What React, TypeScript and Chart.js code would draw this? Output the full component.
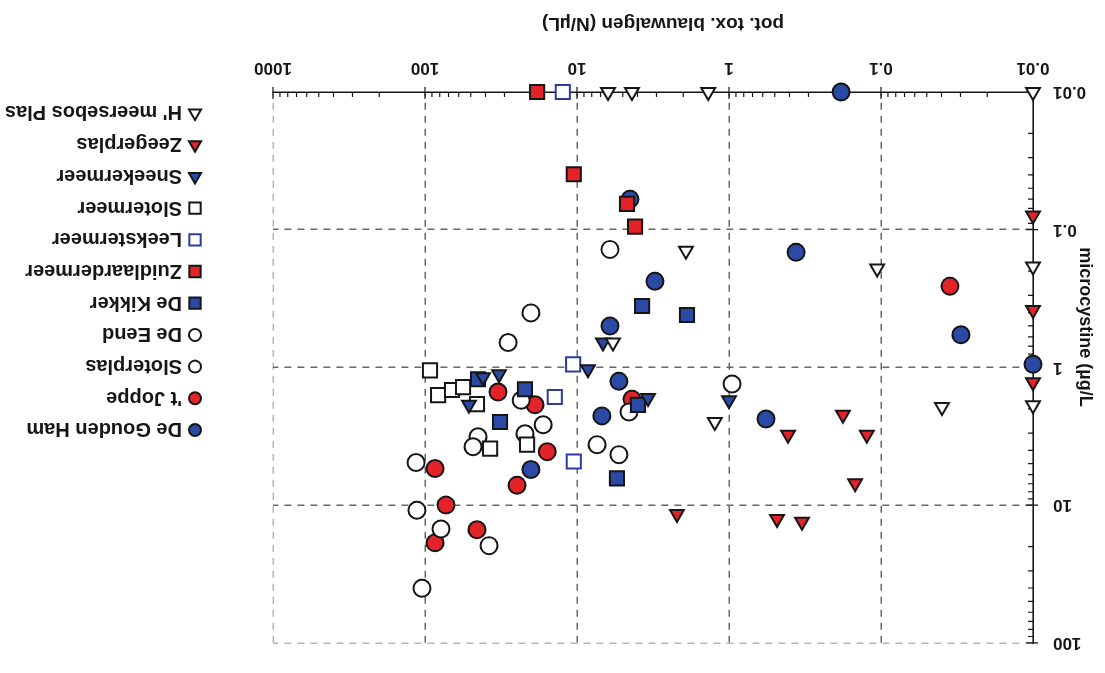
import React, { useEffect, useRef } from "react";
import { Chart, registerables } from "chart.js";

Chart.register(...registerables);

// ---- axis ticks & titles ----
const xTickValues = [0.01, 0.1, 1, 10, 100, 1000];
const xTickLabels = ["0.01", "0.1", "1", "10", "100", "1000"];
const yTickValues = [0.01, 0.1, 1, 10, 100];
const yTickLabels = ["0.01", "0.1", "1", "10", "100"];
const xTitle = "pot. tox. blauwalgen (N/µL)";
const yTitle = "microcystine (µg/L";

// ---- series data: [pot. tox. blauwalgen, microcystine] ----
const deGoudenHam: [number, number][] = [
  [0.183, 0.01], [4.48, 0.06], [3.07, 0.237], [6.07, 0.5], [0.362, 0.146],
  [0.0298, 0.579], [0.01, 0.95], [0.571, 2.37], [5.3, 1.26], [6.86, 2.25], [20.1, 5.51],
];
const tJoppe: [number, number][] = [
  [0.0352, 0.257], [33.1, 1.51], [18.9, 1.87], [15.7, 4.09], [24.8, 7.18],
  [85.9, 5.42], [4.35, 1.7], [72.8, 10.0], [85.9, 18.8], [45.5, 15.1],
];
const sloterplas: [number, number][] = [
  [114.5, 4.91], [113, 10.9], [78.5, 14.9], [37.9, 19.7], [104.7, 40.2],
  [44.8, 3.19], [48.3, 3.77], [28.4, 0.66], [20.1, 0.402],
];
const deEend: [number, number][] = [
  [6.07, 0.139], [0.955, 1.32], [23.3, 1.73], [16.7, 2.61], [22, 3.03],
  [4.55, 2.11], [7.38, 3.64], [5.3, 4.3],
];
const deKikker: [number, number][] = [
  [3.73, 0.358], [1.89, 0.416], [44.8, 1.22], [22, 1.44], [32.1, 2.49], [3.97, 1.87], [5.46, 6.4],
];
const zuidlaardermeer: [number, number][] = [
  [18.3, 0.01], [10.5, 0.0396], [4.69, 0.065], [4.15, 0.095],
];
const leekstermeer: [number, number][] = [
  [12.4, 0.01], [10.6, 0.95], [14, 1.64], [10.5, 4.82],
];
const slotermeer: [number, number][] = [
  [92.7, 1.05], [82, 1.59], [66.4, 1.46], [56.2, 1.39], [45.5, 1.85], [37.3, 3.89], [21.3, 3.64],
];
const sneekermeer: [number, number][] = [
  [6.75, 0.66], [8.47, 1.03], [41.5, 1.18], [32.6, 1.12], [51.4, 1.87], [3.41, 1.67], [1.0, 1.73],
];
const zeegerplas: [number, number][] = [
  [0.01, 0.079], [0.01, 0.383], [0.01, 1.28], [0.409, 3.08], [0.178, 2.21],
  [0.124, 3.08], [0.148, 6.95], [2.2, 11.6], [0.483, 12.6], [0.331, 13.2],
];
const hMeersebosPlas: [number, number][] = [
  [6.25, 0.01], [4.35, 0.01], [1.37, 0.01], [0.01, 0.01], [1.92, 0.142], [0.106, 0.191],
  [0.01, 0.185], [5.8, 0.66], [0.01, 1.88], [1.24, 2.49], [0.0397, 1.94],
];

const BLUE = "#2a4aa6";
const RED = "#e42329";
const INK = "#161616";

type S = { name: string; data: [number, number][]; style: string; fill: string; stroke: string; r: number };

const series: S[] = [
  { name: "De Gouden Ham", data: deGoudenHam, style: "circle", fill: BLUE, stroke: INK, r: 8.5 },
  { name: "'t Joppe", data: tJoppe, style: "circle", fill: RED, stroke: INK, r: 8.5 },
  { name: "Sloterplas", data: sloterplas, style: "circle", fill: "#ffffff", stroke: INK, r: 8.5 },
  { name: "De Eend", data: deEend, style: "circle", fill: "#ffffff", stroke: INK, r: 8.5 },
  { name: "De Kikker", data: deKikker, style: "rect", fill: BLUE, stroke: INK, r: 10 },
  { name: "Zuidlaardermeer", data: zuidlaardermeer, style: "rect", fill: RED, stroke: INK, r: 10 },
  { name: "Leekstermeer", data: leekstermeer, style: "rect", fill: "#ffffff", stroke: "#2a3d9c", r: 10 },
  { name: "Slotermeer", data: slotermeer, style: "rect", fill: "#ffffff", stroke: INK, r: 10 },
  { name: "Sneekermeer", data: sneekermeer, style: "triangle", fill: BLUE, stroke: INK, r: 8 },
  { name: "Zeegerplas", data: zeegerplas, style: "triangle", fill: RED, stroke: INK, r: 8 },
  { name: "H' meersebos Plas", data: hMeersebosPlas, style: "triangle", fill: "#ffffff", stroke: INK, r: 8 },
];

const FONT = "'Liberation Sans', Arial, Helvetica, sans-serif";

function drawMarker(ctx: CanvasRenderingContext2D, style: string, x: number, y: number, r: number) {
  ctx.beginPath();
  if (style === "circle") {
    ctx.arc(x, y, r, 0, Math.PI * 2);
  } else if (style === "rect") {
    const s = r * Math.SQRT1_2;
    ctx.rect(x - s, y - s, 2 * s, 2 * s);
  } else {
    ctx.moveTo(x, y - r);
    ctx.lineTo(x + r * Math.sin((2 * Math.PI) / 3), y - r * Math.cos((2 * Math.PI) / 3));
    ctx.lineTo(x + r * Math.sin((4 * Math.PI) / 3), y - r * Math.cos((4 * Math.PI) / 3));
    ctx.closePath();
  }
  ctx.fill();
  ctx.stroke();
}

const legendPlugin = {
  id: "customLegend",
  afterDraw(chart: any) {
    const ctx: CanvasRenderingContext2D = chart.ctx;
    ctx.save();
    const mx = 910;
    const y0 = 243;
    const step = 31.7;
    series.forEach((s, i) => {
      const y = y0 + i * step;
      ctx.fillStyle = s.fill;
      ctx.strokeStyle = s.stroke;
      ctx.lineWidth = 2;
      const r = s.style === "circle" ? 6 : s.style === "rect" ? 8 : 7;
      drawMarker(ctx, s.style, mx, y, r);
      ctx.fillStyle = INK;
      ctx.font = `bold 20px ${FONT}`;
      ctx.textAlign = "left";
      ctx.textBaseline = "middle";
      ctx.fillText(s.name, 923, y + 1);
    });
    // axis titles
    ctx.fillStyle = INK;
    ctx.font = `bold 19px ${FONT}`;
    ctx.textAlign = "center";
    ctx.textBaseline = "middle";
    const area = chart.chartArea;
    ctx.fillText(xTitle, (area.left + area.right) / 2 - 10, 650);
    ctx.save();
    ctx.translate(20, 346);
    ctx.rotate(-Math.PI / 2);
    ctx.font = `bold 18px ${FONT}`;
    ctx.fillText(yTitle, 0, 0);
    ctx.restore();
    ctx.restore();
  },
};

const minorTickPlugin = {
  id: "minorTicks",
  beforeDatasetsDraw(chart: any) {
    const ctx: CanvasRenderingContext2D = chart.ctx;
    const { chartArea, scales } = chart;
    const xs = scales.x;
    const ys = scales.y;
    ctx.save();
    ctx.strokeStyle = INK;
    ctx.lineWidth = 1.2;
    ctx.beginPath();
    for (let e = -2; e < 3; e++) {
      for (let m = 2; m <= 9; m++) {
        const px = xs.getPixelForValue(m * Math.pow(10, e));
        ctx.moveTo(px, chartArea.bottom);
        ctx.lineTo(px, chartArea.bottom - 5);
      }
    }
    for (let e = -2; e < 2; e++) {
      for (let m = 2; m <= 9; m++) {
        const py = ys.getPixelForValue(m * Math.pow(10, e));
        ctx.moveTo(chartArea.left, py);
        ctx.lineTo(chartArea.left + 5, py);
      }
    }
    xTickValues.forEach((v) => {
      const px = xs.getPixelForValue(v);
      ctx.moveTo(px, chartArea.bottom + 5);
      ctx.lineTo(px, chartArea.bottom - 7);
    });
    yTickValues.forEach((v) => {
      const py = ys.getPixelForValue(v);
      ctx.moveTo(chartArea.left - 5, py);
      ctx.lineTo(chartArea.left + 7, py);
    });
    ctx.stroke();
    ctx.restore();
  },
};

function gridColor(min: number, max: number) {
  return (c: any) => {
    const v = c.tick ? c.tick.value : null;
    if (v === min) return "rgba(0,0,0,0)";
    if (v === max) return "#b5b5b5";
    return "#686868";
  };
}

export default function App() {
  const ref = useRef<HTMLCanvasElement | null>(null);
  useEffect(() => {
    if (!ref.current) return;
    const chart = new Chart(ref.current, {
      type: "scatter",
      data: {
        datasets: series.map((s, i) => ({
          label: s.name,
          data: s.data.map(([x, y]) => ({ x, y })),
          order: series.length - i,
          pointStyle: s.style as any,
          pointRadius: s.r,
          pointHoverRadius: s.r,
          pointBackgroundColor: s.fill,
          pointBorderColor: s.stroke,
          pointBorderWidth: 2,
          clip: false as any,
        })),
      },
      options: {
        responsive: false,
        animation: false,
        devicePixelRatio: 1,
        layout: { padding: { left: 0, right: 273, top: 26, bottom: 0 } },
        plugins: { legend: { display: false }, tooltip: { enabled: false }, title: { display: false } },
        scales: {
          x: {
            type: "logarithmic",
            position: "bottom",
            min: 0.01,
            max: 1000,
            afterBuildTicks: (scale: any) => {
              scale.ticks = xTickValues.map((v) => ({ value: v }));
            },
            afterFit: (scale: any) => {
              scale.height = 92;
            },
            ticks: {
              autoSkip: false,
              maxRotation: 0,
              padding: 14,
              color: INK,
              font: { family: FONT, size: 17, weight: "bold" },
              callback: (v: any) => {
                const i = xTickValues.indexOf(Number(v));
                return i >= 0 ? xTickLabels[i] : "";
              },
            },
            grid: { color: gridColor(0.01, 1000) as any, lineWidth: 1.5, drawTicks: false },
            border: { display: true, color: INK, width: 1.6, dash: [7, 6] },
            title: { display: false },
          },
          y: {
            type: "logarithmic",
            position: "left",
            min: 0.01,
            max: 100,
            afterBuildTicks: (scale: any) => {
              scale.ticks = yTickValues.map((v) => ({ value: v }));
            },
            afterFit: (scale: any) => {
              scale.width = 72;
            },
            ticks: {
              autoSkip: false,
              padding: 20,
              color: INK,
              font: { family: FONT, size: 17, weight: "bold" },
              callback: (v: any) => {
                const i = yTickValues.indexOf(Number(v));
                return i >= 0 ? yTickLabels[i] : "";
              },
            },
            grid: { color: gridColor(0.01, 100) as any, lineWidth: 1.5, drawTicks: false },
            border: { display: true, color: INK, width: 1.6, dash: [7, 6] },
            title: { display: false },
          },
        },
      },
      plugins: [minorTickPlugin, legendPlugin],
    });
    return () => chart.destroy();
  }, []);

  return (
    <div
      style={{
        position: "absolute",
        left: 0,
        top: 0,
        width: 1105,
        height: 673,
        background: "#ffffff",
        transform: "rotate(180deg)",
      }}
    >
      <canvas ref={ref} width={1105} height={673} style={{ display: "block" }} />
    </div>
  );
}
